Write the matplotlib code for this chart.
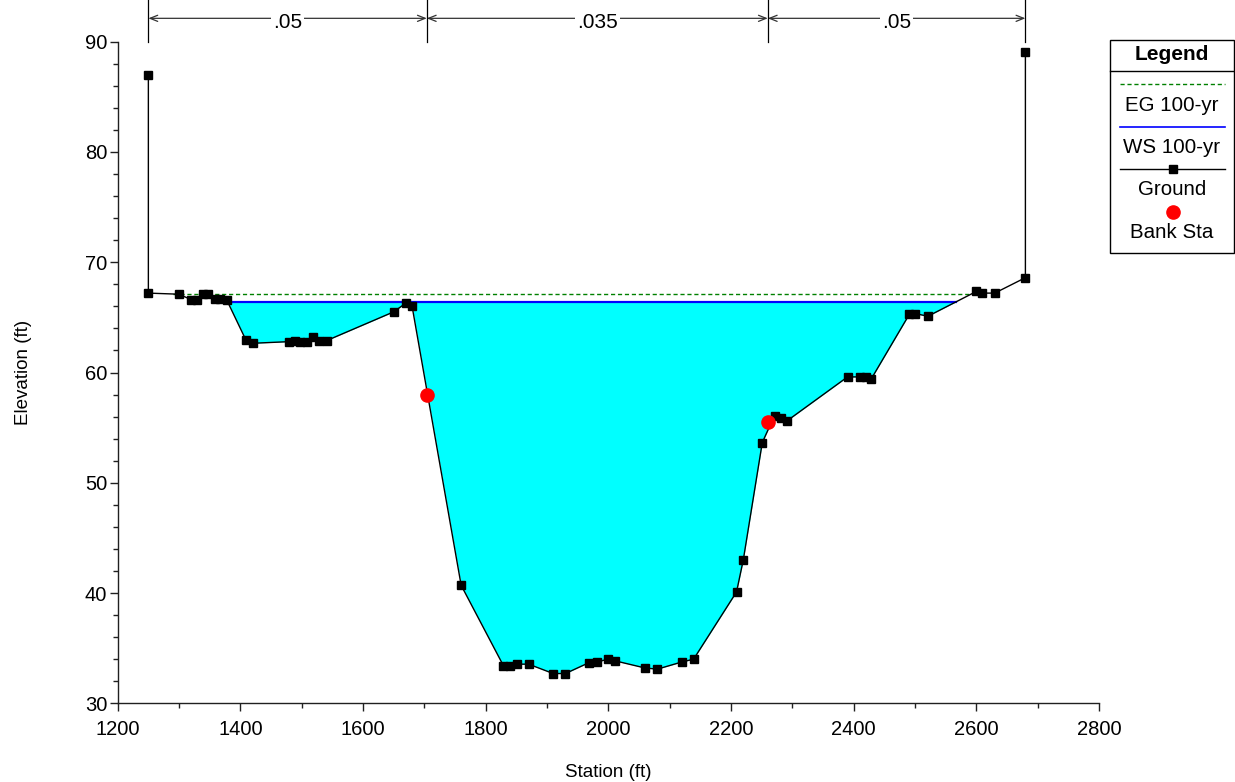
import numpy as np
import matplotlib
matplotlib.use("Agg")
import matplotlib.pyplot as plt
from matplotlib.ticker import MultipleLocator

plt.rcParams['font.family'] = ['Liberation Sans', 'DejaVu Sans']

# ---------------- data ----------------
station = [1250, 1250, 1300, 1320, 1329, 1339, 1348, 1358, 1367, 1378,
           1409, 1420, 1480, 1489, 1497, 1508, 1519, 1529, 1541, 1650,
           1670, 1680, 1760, 1829, 1840, 1851, 1870, 1910, 1930, 1969,
           1981, 2000, 2011, 2060, 2080, 2120, 2139, 2209, 2220, 2251,
           2271, 2282, 2291, 2390, 2410, 2420, 2429, 2491, 2500, 2521,
           2600, 2610, 2630, 2680, 2680]
elevation = [87.0, 67.2, 67.1, 66.6, 66.6, 67.1, 67.1, 66.7, 66.7, 66.55,
             62.95, 62.65, 62.8, 62.85, 62.75, 62.75, 63.25, 62.9, 62.9, 65.5,
             66.3, 66.0, 40.7, 33.4, 33.4, 33.55, 33.55, 32.7, 32.7, 33.7,
             33.75, 34.0, 33.85, 33.2, 33.1, 33.75, 34.0, 40.1, 43.0, 53.65,
             56.1, 55.85, 55.6, 59.6, 59.6, 59.55, 59.45, 65.3, 65.35, 65.1,
             67.35, 67.2, 67.2, 68.6, 89.1]
bank_station = [1704, 2260]
bank_elev = [58.0, 55.5]
ws_100yr = 66.42
eg_100yr = 67.12
n_break_stations = [1250, 1704, 2260, 2680]
n_values = ['.05', '.035', '.05']
legend_labels = ['EG 100-yr', 'WS 100-yr', 'Ground', 'Bank Sta']

W, H = 1235, 782
fig = plt.figure(figsize=(W / 100, H / 100), dpi=100)
ax = fig.add_axes([117.7 / W, 1 - 703.3 / H, (1099 - 117.7) / W, (703.3 - 41.7) / H])

st = np.array(station, dtype=float)
el = np.array(elevation, dtype=float)

# water fill: dense sampling of ground between outer stations
xs = np.linspace(st[1], st[-2], 6000)
gs = np.interp(xs, st[1:-1], el[1:-1])
wet = gs < ws_100yr
ax.fill_between(xs, gs, ws_100yr, where=wet, interpolate=True,
                color='#00FFFF', linewidth=0, zorder=1)

def extent(level):
    idx = np.where(gs < level)[0]
    return xs[idx[0]], xs[idx[-1]]

ws_l, ws_r = extent(ws_100yr)
eg_l, eg_r = extent(eg_100yr)
ax.plot([ws_l, ws_r], [ws_100yr, ws_100yr], color='#0000FF', lw=1.6, zorder=2)
ax.plot([eg_l, eg_r], [eg_100yr, eg_100yr], color='#008000', lw=1.0,
        ls=(0, (3, 2)), zorder=2)

# ground
ax.plot(st, el, color='black', lw=1.0, marker='s', ms=5.8, mfc='black',
        mec='black', zorder=3)
# bank stations
ax.plot(bank_station, bank_elev, ls='none', marker='o', ms=9.5,
        color='#FF0000', zorder=4)

ax.set_xlim(1200, 2800)
ax.set_ylim(30, 90)
ax.xaxis.set_major_locator(MultipleLocator(200))
ax.xaxis.set_minor_locator(MultipleLocator(100))
ax.yaxis.set_major_locator(MultipleLocator(10))
ax.yaxis.set_minor_locator(MultipleLocator(2))
for s in ['top', 'right']:
    ax.spines[s].set_visible(False)
for s in ['left', 'bottom']:
    ax.spines[s].set_color('#202020')
    ax.spines[s].set_linewidth(1.0)
ax.tick_params(which='major', length=5.5, width=1.0, color='#202020',
               labelsize=14.5, pad=2)
ax.tick_params(axis='x', which='major', pad=6.5)
ax.tick_params(which='minor', length=3.5, width=1.0, color='#202020')
ax.set_xlabel('Station (ft)', fontsize=13.5, labelpad=18)
ax.set_ylabel('Elevation (ft)', fontsize=13.5, labelpad=38)

# Manning's n annotation above the plot
for s in n_break_stations:
    ax.plot([s, s], [90, 95], color='black', lw=0.9, clip_on=False, zorder=5)
arrow_y = 92.12
text_y = 91.75
for i, lab in enumerate(n_values):
    x0, x1 = n_break_stations[i], n_break_stations[i + 1]
    ax.annotate('', xy=(x1, arrow_y), xytext=(x0, arrow_y),
                arrowprops=dict(arrowstyle='<->,head_length=0.55,head_width=0.22',
                                color='#333333', lw=0.9,
                                shrinkA=0, shrinkB=0),
                annotation_clip=False)
    ax.text((x0 + x1) / 2, text_y, lab, ha='center', va='center',
            fontsize=15, clip_on=False,
            bbox=dict(facecolor='white', edgecolor='none', pad=1.5))

# Legend box (drawn in pixel space on an overlay axes)
ov = fig.add_axes([0, 0, 1, 1])
ov.set_xlim(0, W)
ov.set_ylim(H, 0)
ov.axis('off')
ov.add_patch(plt.Rectangle((1110, 40), 124, 213, fill=False, ec='black', lw=1.0))
ov.plot([1110, 1234], [70.7, 70.7], color='black', lw=1.0)
ov.text(1172, 55, 'Legend', ha='center', va='center', fontsize=15,
        fontweight='bold')
ov.plot([1120, 1225], [84.3, 84.3], color='#008000', lw=1.0, ls=(0, (3, 2)))
ov.text(1172, 105.5, legend_labels[0], ha='center', va='center', fontsize=14.8)
ov.plot([1120, 1225], [126.5, 126.5], color='#0000FF', lw=1.2)
ov.text(1172, 147.5, legend_labels[1], ha='center', va='center', fontsize=14.8)
ov.plot([1120, 1225], [169.3, 169.3], color='black', lw=1.0)
ov.plot([1173], [169.3], marker='s', ms=5.8, color='black')
ov.text(1172, 189.5, legend_labels[2], ha='center', va='center', fontsize=14.8)
ov.plot([1173], [211.5], marker='o', ms=9.5, color='#FF0000')
ov.text(1172, 232, legend_labels[3], ha='center', va='center', fontsize=14.8)

fig.savefig('out.png', dpi=100)
